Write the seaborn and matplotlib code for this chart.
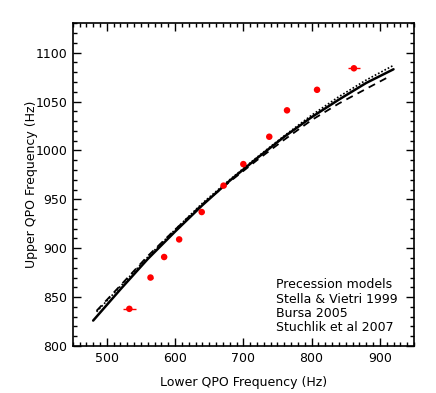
import matplotlib
matplotlib.use("Agg")
import matplotlib.pyplot as plt
from matplotlib.ticker import MultipleLocator
import pandas as pd
import seaborn as sns

# observed twin kHz QPOs (lower, upper) in Hz
lower_obs = [533, 564, 584, 606, 639, 671, 700, 738, 764, 808, 862]
upper_obs = [838, 870, 891, 909, 937, 964, 986, 1014, 1041, 1062, 1084]
lower_err = [10, 3, 3, 3, 3, 3, 3, 3, 3, 3, 9]

# precession model curves
stella_x = [480, 520, 560, 600, 640, 680, 720, 760, 800, 840, 880, 920]
stella_y = [826, 858, 889, 917, 944, 969, 992, 1014, 1034, 1052, 1069, 1083]

bursa_x = [485, 520, 560, 600, 640, 680, 720, 760, 800, 840, 880, 915]
bursa_y = [836, 862, 892, 919, 945, 968, 990, 1011, 1031, 1048, 1063, 1076]

stuchlik_x = [485, 520, 560, 600, 640, 680, 720, 760, 800, 840, 880, 920]
stuchlik_y = [835, 861, 891, 919, 946, 970, 993, 1015, 1036, 1055, 1072, 1087]

legend_lines = ["Precession models", "Stella & Vietri 1999", "Bursa 2005", "Stuchlik et al 2007"]

sns.set_style("ticks")
plt.rcParams['font.family'] = ['DejaVu Sans']
for key in ["text.color", "axes.labelcolor", "xtick.color", "ytick.color", "axes.edgecolor"]:
    plt.rcParams[key] = "black"

fig = plt.figure(figsize=(4.36, 3.93), dpi=100)
ax = fig.add_axes([0.1667, 0.1196, 0.7828, 0.8211])

obs = pd.DataFrame({"lower": lower_obs, "upper": upper_obs})
sns.lineplot(x=stella_x, y=stella_y, ax=ax, color="black", lw=1.8)
sns.lineplot(x=bursa_x, y=bursa_y, ax=ax, color="black", lw=1.3, linestyle=(0, (4, 3)))
sns.lineplot(x=stuchlik_x, y=stuchlik_y, ax=ax, color="black", lw=1.2, linestyle=(0, (1, 1.2)))
ax.errorbar(lower_obs, upper_obs, xerr=lower_err, fmt="none", ecolor="red", elinewidth=1.0)
sns.scatterplot(data=obs, x="lower", y="upper", ax=ax, color="red", s=22, edgecolor="none", zorder=5)

ax.set_xlim(450, 950)
ax.set_ylim(800, 1130)
ax.xaxis.set_major_locator(MultipleLocator(100))
ax.xaxis.set_minor_locator(MultipleLocator(10))
ax.yaxis.set_major_locator(MultipleLocator(50))
ax.yaxis.set_minor_locator(MultipleLocator(10))
ax.tick_params(which="both", direction="in", top=True, right=True, width=1.0,
               labelsize=9, pad=4, colors="black")
ax.tick_params(which="major", length=5.5)
ax.tick_params(which="minor", length=3)
for sp in ax.spines.values():
    sp.set_linewidth(1.2)
    sp.set_color("black")
    sp.set_visible(True)

ax.set_xlabel("Lower QPO Frequency (Hz)", fontsize=9, labelpad=8)
ax.set_ylabel("Upper QPO Frequency (Hz)", fontsize=9, labelpad=-2)

for i, txt in enumerate(legend_lines):
    ax.text(0.597, 0.19 - i * 0.0445, txt, transform=ax.transAxes, fontsize=9, va="center", ha="left")

fig.savefig("out.png", dpi=100)
